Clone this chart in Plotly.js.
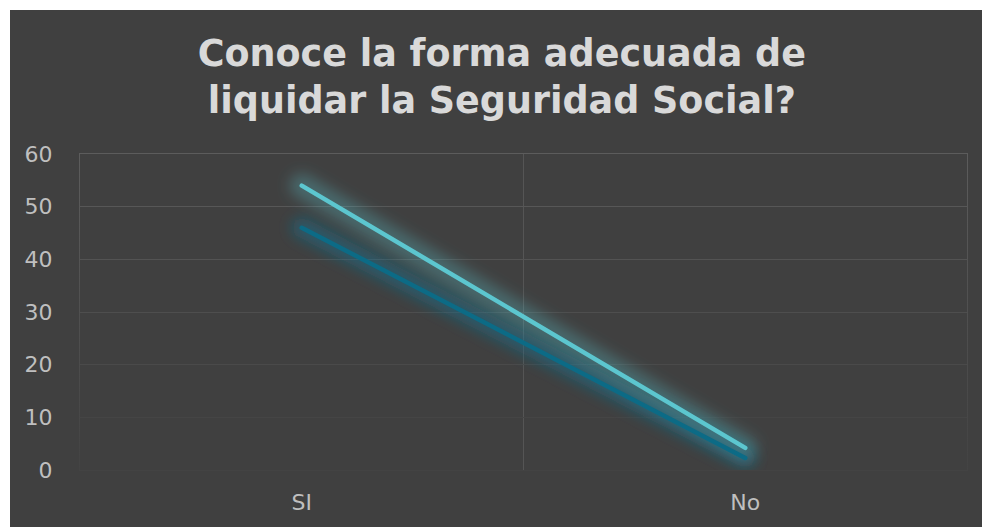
<!DOCTYPE html>
<html>
<head>
<meta charset="utf-8">
<script src="https://cdn.plot.ly/plotly-3.0.1.min.js"></script>
<style>
  html, body { margin:0; padding:0; background:#ffffff; width:982px; height:527px; overflow:hidden; }
  #chart { position:absolute; left:10px; top:10px; width:972px; height:517px; }
</style>
</head>
<body>
<div id="chart"></div>
<script>
const categories = ["SI", "No"];
const seriesLight = [54, 4.2];
const seriesDark = [46, 2.3];
const yTicks = [0, 10, 20, 30, 40, 50, 60];
const titleText = "Conoce la forma adecuada de<br>liquidar la Seguridad Social?";

function glow(y, color, w) {
  return { x: categories, y: y, type: "scatter", mode: "lines",
    line: { color: color, width: w }, hoverinfo: "skip", showlegend: false };
}

const traces = [
  glow(seriesDark, "rgba(15,110,140,0.55)", 20),
  glow(seriesLight, "rgba(92,198,207,0.30)", 24),
  { x: categories, y: seriesDark, type: "scatter", mode: "lines", name: "Serie 2",
    line: { color: "#0c6b86", width: 4.5 }, showlegend: false },
  { x: categories, y: seriesLight, type: "scatter", mode: "lines", name: "Serie 1",
    line: { color: "#5cc6cf", width: 4.5 }, showlegend: false }
];

const layout = {
  width: 972, height: 517,
  paper_bgcolor: "#404040", plot_bgcolor: "#404040",
  margin: { l: 70, r: 15, t: 144, b: 57 },
  title: { text: titleText, xref: "container", x: 0.506, xanchor: "center",
    yref: "container", y: 0.892, yanchor: "top",
    font: { family: "DejaVu Sans", size: 36.5, color: "#d9d9d9", weight: "bold" } },
  xaxis: { type: "category", range: [-0.5, 1.5], tickson: "boundaries",
    showgrid: true, gridcolor: "#555555", gridwidth: 1, ticks: "",
    zeroline: false, showline: true, mirror: true, linecolor: "#555555", linewidth: 1,
    ticklabelstandoff: 13,
    tickfont: { family: "DejaVu Sans", size: 22, color: "#bfbfbf" } },
  yaxis: { range: [0, 60], tickvals: yTicks, ticktext: yTicks.map(String),
    showgrid: true, gridcolor: "#585858", gridwidth: 1, zeroline: false,
    showline: true, mirror: true, linecolor: "#555555", linewidth: 1,
    ticks: "", ticklabelstandoff: 22,
    tickfont: { family: "DejaVu Sans", size: 22, color: "#bfbfbf" } },
  font: { family: "DejaVu Sans" }
};

function mix(f) {
  const a = 0x5c, b = 0x42;
  const v = Math.round(a + (b - a) * Math.max(0, Math.min(1, f)));
  return "rgb(" + v + "," + v + "," + v + ")";
}

Plotly.newPlot("chart", traces, layout, { displayModeBar: false, staticPlot: true }).then(function (gd) {
  const svg = gd.querySelector("svg.main-svg");
  const ns = "http://www.w3.org/2000/svg";
  let defs = svg.querySelector("defs");
  if (!defs) { defs = document.createElementNS(ns, "defs"); svg.insertBefore(defs, svg.firstChild); }
  const f = document.createElementNS(ns, "filter");
  f.setAttribute("id", "glowblur");
  f.setAttribute("x", "-20%"); f.setAttribute("y", "-20%");
  f.setAttribute("width", "140%"); f.setAttribute("height", "140%");
  const b = document.createElementNS(ns, "feGaussianBlur");
  b.setAttribute("stdDeviation", "7");
  f.appendChild(b);
  defs.appendChild(f);
  gd.querySelectorAll(".scatterlayer .trace").forEach(function (t, i) {
    t.querySelectorAll("path.js-line").forEach(function (p) {
      p.style.strokeLinecap = "round";
      if (i < 2) p.setAttribute("filter", "url(#glowblur)");
    });
  });

  // fade grid and frame lines toward the bottom, as in the reference
  const sz = gd._fullLayout._size;
  const sr = svg.getBoundingClientRect();
  const pTop = sr.top + sz.t, pH = sz.h;
  gd.querySelectorAll(".gridlayer path, path.xlines-above, path.ylines-above, path.xlines-below, path.ylines-below").forEach(function (p, k) {
    const r = p.getBoundingClientRect();
    if (r.height < 3) {
      const fr = (r.top + r.height / 2 - pTop) / pH;
      p.style.stroke = fr > 0.97 ? "#444444" : mix(fr * 1.05);
    } else {
      const gid = "vg" + k;
      const g = document.createElementNS(ns, "linearGradient");
      g.setAttribute("id", gid);
      g.setAttribute("gradientUnits", "objectBoundingBox");
      g.setAttribute("x1", "0"); g.setAttribute("x2", "0");
      g.setAttribute("y1", "0"); g.setAttribute("y2", "1");
      [["0", "#5c5c5c"], ["1", "#434343"]].forEach(function (s) {
        const st = document.createElementNS(ns, "stop");
        st.setAttribute("offset", s[0]); st.setAttribute("stop-color", s[1]);
        g.appendChild(st);
      });
      defs.appendChild(g);
      // mirrored frame paths contain both horizontal and vertical segments; split colours by stroke
      p.style.stroke = "url(#" + gid + ") #555555";
    }
  });
});
</script>
</body>
</html>
